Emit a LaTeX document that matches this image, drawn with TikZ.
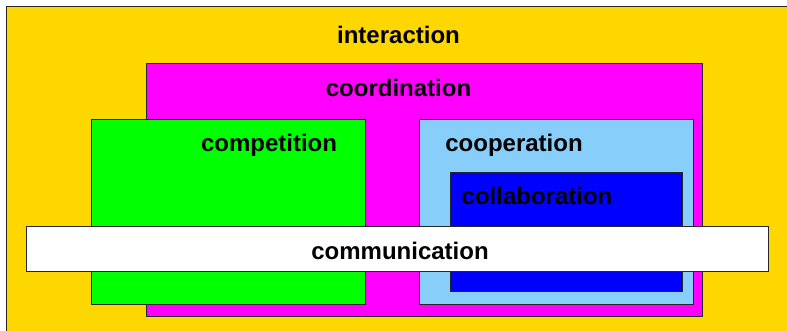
\documentclass[tikz,border=0pt]{standalone}
\usepackage{fontspec}
\setmainfont{Liberation Sans}
\begin{document}
\begin{tikzpicture}[x=1pt,y=-1pt,
  region/.style={draw=black!85, line width=1pt},
  lbl/.style={font=\fontsize{24}{26}\selectfont\bfseries, inner sep=0pt, anchor=base}]
\definecolor{gold}{HTML}{FFD700}
\definecolor{skyb}{HTML}{87CEFA}
\definecolor{pinkish}{HTML}{FF00FF}
\definecolor{lime}{HTML}{00FF00}
\definecolor{pureblue}{HTML}{0000FF}
\clip (0,0) rectangle (787,330);
\useasboundingbox (0,0) rectangle (787,330);
\fill[white] (0,0) rectangle (787,330);
% nested regions
\draw[region, fill=gold] (6,6) rectangle (800,340);
\draw[region, fill=pinkish] (146,63) rectangle (702,316);
\draw[region, fill=lime] (91,119) rectangle (365,304);
\draw[region, fill=skyb] (419,119) rectangle (693,304);
\draw[region, fill=pureblue] (450,172) rectangle (682,291);
\draw[region, fill=white] (26,226) rectangle (768,271);
% labels
\node[lbl] (interaction) at (398.5,43) {interaction};
\node[lbl] (coordination) at (398.5,96) {coordination};
\node[lbl] (competition) at (269,151) {competition};
\node[lbl] (cooperation) at (514,151) {cooperation};
\node[lbl] (collaboration) at (537,204) {collaboration};
\node[lbl] (communication) at (400,259) {communication};
\end{tikzpicture}
\end{document}
